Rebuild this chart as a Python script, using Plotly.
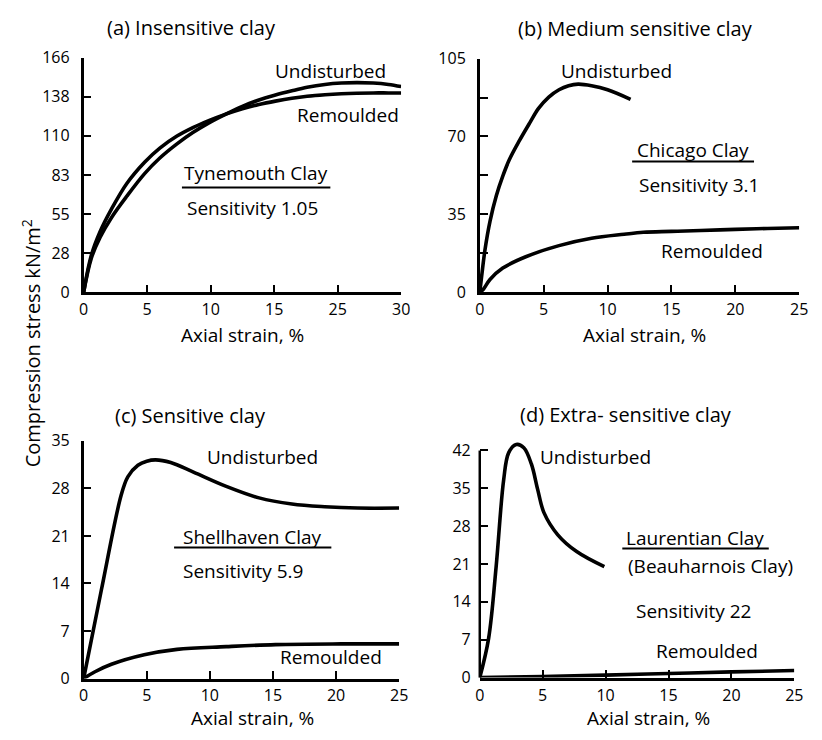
import plotly.graph_objects as go

W, H = 822, 740
FONT = "Open Sans"

# ---------------- data ----------------
# (a) Insensitive clay - Tynemouth Clay (x in tick-position units; tick labels 0,5,10,15,25,30)
a_tick_pos = [0, 5, 10, 15, 20, 25]
a_tick_lab = ["0", "5", "10", "15", "25", "30"]
a_ytick_val = [0, 27.67, 55.33, 83, 110.67, 138.33, 166]
a_ytick_lab = ["0", "28", "55", "83", "110", "138", "166"]
a_und_x = [0, 0.6, 1.3, 2.2, 3.4, 4.8, 6.0, 7.35, 8.6, 9.9, 11.2, 12.5, 13.8, 15.1, 16.4, 17.6, 19.0, 20.3, 21.5, 22.8, 24.0, 25.0]
a_und_y = [0, 24, 39, 53, 68, 84, 95, 105, 113, 120, 126, 131.5, 136, 139.5, 142.5, 145, 147, 148, 148.3, 148, 147, 145.5]
a_rem_x = [0, 0.6, 1.3, 2.2, 3.4, 4.8, 6.0, 7.35, 8.6, 9.9, 11.2, 12.5, 13.8, 15.1, 16.4, 17.6, 19.0, 20.3, 21.5, 22.8, 24.0, 25.0]
a_rem_y = [0, 26, 43, 59, 77, 92, 102, 110.5, 116.5, 121.6, 126, 129.8, 132.8, 135.2, 137.2, 138.6, 139.7, 140.4, 140.8, 141, 141, 141]

# (b) Medium sensitive clay - Chicago Clay
b_ytick_val = [0, 35, 70, 105]
b_ytick_minor = [17.5, 52.5, 87.5]
b_und_x = [0, 0.15, 0.4, 0.8, 1.3, 1.8, 2.3, 3.1, 3.9, 4.6, 5.4, 6.2, 6.95, 7.7, 8.75, 10.0, 11.8]
b_und_y = [0, 7.4, 18.8, 31.9, 43.5, 52.2, 59.4, 68.1, 76, 82.6, 87.7, 91, 92.8, 93.5, 92.8, 91, 86.7]
b_rem_x = [0, 0.28, 0.8, 1.8, 3.6, 6.2, 8.75, 11.3, 12.8, 15.0, 17.3, 20.0, 22.5, 25.0]
b_rem_y = [0, 1.4, 5.8, 10.9, 16, 21, 24.3, 26.1, 27, 27.4, 27.8, 28.3, 28.7, 29.0]

# (c) Sensitive clay - Shellhaven Clay
c_ytick_val = [0, 7, 14, 21, 28, 35]
c_und_x = [0, 1.4, 2.96, 3.5, 4.3, 5.0, 5.7, 6.9, 8.7, 11.3, 13.9, 16.5, 19.1, 21.7, 25.0]
c_und_y = [0, 13, 26.9, 29.7, 31.4, 32.0, 32.2, 31.8, 30.4, 28.3, 26.6, 25.7, 25.3, 25.1, 25.1]
c_rem_x = [0, 0.9, 2.2, 4.8, 7.4, 11.3, 15.2, 20.4, 25.0]
c_rem_y = [0, 1.0, 2.1, 3.5, 4.3, 4.7, 5.0, 5.1, 5.1]

# (d) Extra-sensitive clay - Laurentian Clay
d_ytick_val = [0, 7, 14, 21, 28, 35, 42]
d_und_x = [0, 0.7, 1.3, 1.9, 2.3, 2.9, 3.5, 4.1, 4.6, 5.1, 6.2, 7.7, 9.9]
d_und_y = [0, 7.2, 20.5, 36.6, 41.6, 43.1, 42.5, 39.5, 34.8, 30.5, 26.4, 23.3, 20.5]
d_rem_x = [0, 5, 10, 15, 20, 25]
d_rem_y = [0, 0.2, 0.45, 0.75, 1.05, 1.3]

x_ticks = [0, 5, 10, 15, 20, 25]

# ---------------- layout helpers ----------------
def xd(p0, p1):
    return [p0 / W, p1 / W]

def yd(pb, pt):
    return [1 - pb / H, 1 - pt / H]

def px(x):
    return x / W

def py(y):
    return 1 - y / H

LW = 3.6
fig = go.Figure()

def curve(x, y, n):
    fig.add_trace(go.Scatter(x=x, y=y, mode="lines",
                             line=dict(color="black", width=LW, shape="spline", smoothing=1.0),
                             xaxis="x" + ("" if n == 1 else str(n)), yaxis="y" + ("" if n == 1 else str(n)),
                             showlegend=False, hoverinfo="skip"))

curve(a_und_x, a_und_y, 1)
curve(a_rem_x, a_rem_y, 1)
curve(b_und_x, b_und_y, 2)
curve(b_rem_x, b_rem_y, 2)
curve(c_und_x, c_und_y, 3)
curve(c_rem_x, c_rem_y, 3)
curve(d_und_x, d_und_y, 4)
curve(d_rem_x, d_rem_y, 4)

tickfont = dict(family=FONT, size=16, color="black")

def xax(dom, anchor, ticktext=None):
    return dict(domain=dom, anchor=anchor, range=[0, 25], showline=True, linecolor="black", linewidth=2.5,
                ticks="inside", ticklen=8, tickwidth=2, tickcolor="black", showgrid=False, zeroline=False,
                tickvals=x_ticks, ticktext=ticktext if ticktext else [str(v) for v in x_ticks],
                tickfont=tickfont, fixedrange=True, ticklabelstandoff=1)

def yax(dom, anchor, rng, tv, tt, showline=True, minor=None):
    d = dict(domain=dom, anchor=anchor, range=rng, showline=showline, linecolor="black", linewidth=2.5,
             ticks="inside", ticklen=8, tickwidth=2, tickcolor="black", showgrid=False, zeroline=False,
             tickvals=tv, ticktext=tt, tickfont=tickfont, fixedrange=True, ticklabelstandoff=8)
    if minor:
        d["minor"] = dict(tickvals=minor, ticks="inside", ticklen=8, tickwidth=2, tickcolor="black", showgrid=False)
    return d

A_X, A_Y = xd(80, 403), yd(290, 48)
B_X, B_Y = xd(483, 808), yd(290, 49)
C_X, C_Y = xd(80, 401), yd(688, 443)
D_X, D_Y = xd(483, 803), yd(687, 444)

fig.update_layout(
    width=W, height=H, margin=dict(l=0, r=0, t=0, b=0),
    paper_bgcolor="white", plot_bgcolor="white",
    xaxis=xax(A_X, "y", a_tick_lab),
    yaxis=yax(A_Y, "x", [0, 166], a_ytick_val, a_ytick_lab),
    xaxis2=xax(B_X, "y2"),
    yaxis2=yax(B_Y, "x2", [0, 105], b_ytick_val, [str(v) for v in b_ytick_val], minor=b_ytick_minor),
    xaxis3=xax(C_X, "y3"),
    yaxis3=yax(C_Y, "x3", [0, 35], c_ytick_val, [str(v) for v in c_ytick_val]),
    xaxis4=xax(D_X, "y4"),
    yaxis4=yax(D_Y, "x4", [0, 43.6], d_ytick_val, [str(v) for v in d_ytick_val], showline=False),
)

# y-axis line of panel (d) stops at the 42 tick
fig.add_shape(type="line", xref="paper", yref="paper", x0=px(483), x1=px(483), y0=py(687), y1=py(453),
              line=dict(color="black", width=2.5))

def label(text, x, y, size=19, angle=0):
    fig.add_annotation(text=text, x=px(x), y=py(y), xref="paper", yref="paper", showarrow=False,
                       xanchor="center", yanchor="middle", font=dict(family=FONT, size=size, color="black"),
                       textangle=angle)

def underline(x0, x1, y):
    fig.add_shape(type="line", xref="paper", yref="paper", x0=px(x0), x1=px(x1), y0=py(y), y1=py(y),
                  line=dict(color="black", width=2))

# panel titles
label("(a) Insensitive clay", 190, 17, size=20)
label("(b) Medium sensitive clay", 641, 18, size=20)
label("(c) Sensitive clay", 189, 417, size=20)
label("(d) Extra- sensitive clay", 632, 416, size=20)

# x-axis titles
label("Axial strain, %", 242, 334, size=19)
label("Axial strain, %", 651, 334, size=19)
label("Axial strain, %", 252, 729, size=19)
label("Axial strain, %", 655, 729, size=19)

# shared y-axis title
label("Compression stress kN/m<sup>2</sup>", 27, 343, size=20, angle=-90)

# panel (a) texts
label("Undisturbed", 331, 62)
label("Remoulded", 349, 107)
label("Tynemouth Clay", 255, 167)
underline(180, 331, 182)
label("Sensitivity 1.05", 252, 203)

# panel (b) texts
label("Undisturbed", 622, 62)
label("Chicago Clay", 700, 143)
underline(638, 762, 155)
label("Sensitivity 3.1", 706, 179)
label("Remoulded", 719, 247)

# panel (c) texts
label("Undisturbed", 262, 460)
label("Shellhaven Clay", 252, 542)
underline(172, 332, 553)
label("Sensitivity 5.9", 242, 577)
label("Remoulded", 332, 666)

# panel (d) texts
label("Undisturbed", 601, 460)
label("Laurentian Clay", 702, 543)
underline(628, 777, 554)
label("(Beauharnois Clay)", 718, 572)
label("Sensitivity 22", 700, 618)
label("Remoulded", 714, 660)

fig.write_html("out.html")
